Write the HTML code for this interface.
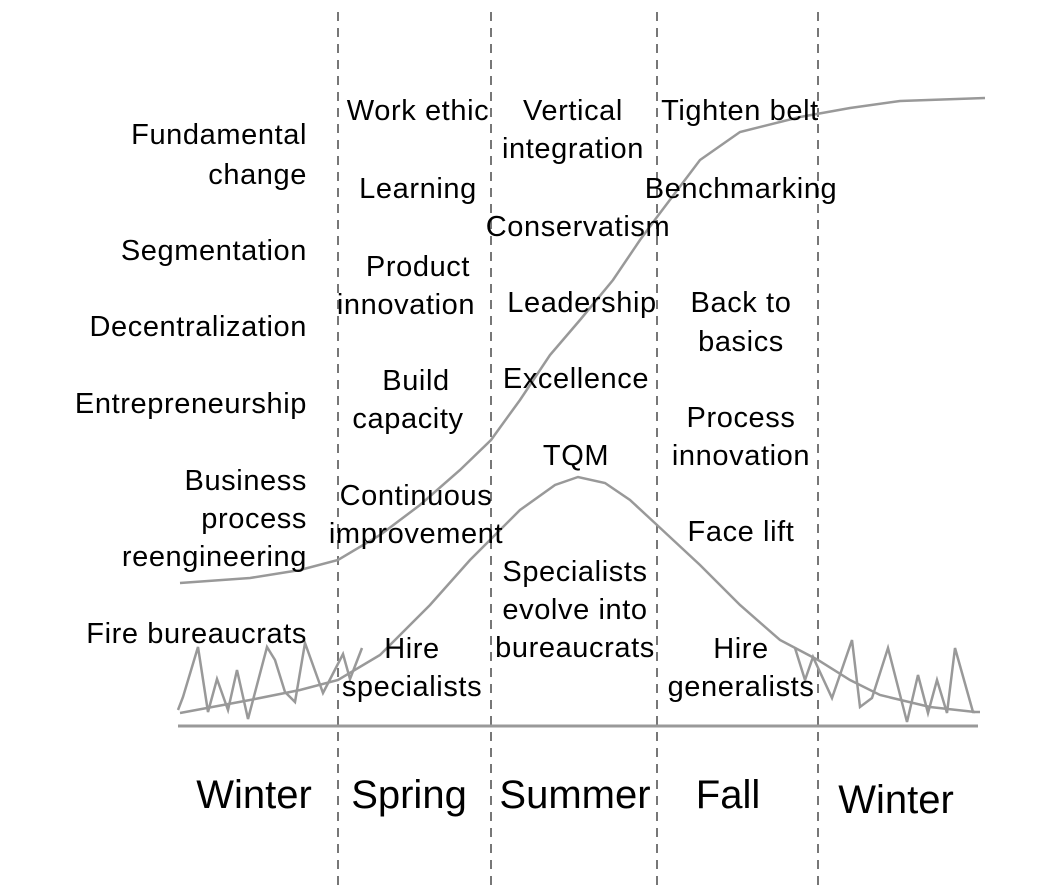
<!DOCTYPE html>
<html><head><meta charset="utf-8"><style>
body{margin:0;background:#fff}
svg text{font-family:"Liberation Sans",Arial,sans-serif;fill:#000}
</style></head><body>
<svg width="1040" height="886" viewBox="0 0 1040 886" xmlns="http://www.w3.org/2000/svg">
<g stroke="#777" stroke-width="2" stroke-dasharray="9,7">
<line x1="338" y1="12" x2="338" y2="886"/><line x1="491" y1="12" x2="491" y2="886"/>
<line x1="657" y1="12" x2="657" y2="886"/><line x1="818" y1="12" x2="818" y2="886"/>
</g>
<line x1="178" y1="726" x2="978" y2="726" stroke="#999" stroke-width="3"/>
<g fill="none" stroke="#999" stroke-width="2.5">
<polyline points="180,583 250,578 300,570 338,560 380,535 420,505 460,470 491,440 520,400 550,355 580,320 613,280 640,240 657,217 700,160 740,132 800,117 850,108 900,101 985,98"/>
<polyline points="180,713 250,700 300,690 338,680 380,655 430,605 470,560 520,510 555,485 578,477 605,483 630,500 657,525 700,565 740,605 780,640 818,660 850,680 880,695 930,707 975,712"/>
<polyline points="178,710 183,697 198,647 208,712 217,679 228,710 237,670 248,719 267,647 275,660 285,692 295,702 305,643 323,693 343,654 350,679 362,648"/>
<polyline points="795,648 805,680 813,657 832,698 852,640 860,707 872,698 888,648 907,722 918,675 928,713 937,680 947,713 955,648 973,712 980,712"/>
</g>
<g font-size="29" letter-spacing="0.6" text-anchor="end">
<text x="307" y="144">Fundamental</text><text x="307" y="184">change</text>
<text x="307" y="260">Segmentation</text>
<text x="307" y="336">Decentralization</text>
<text x="307" y="413">Entrepreneurship</text>
<text x="307" y="490">Business</text><text x="307" y="528">process</text><text x="307" y="566">reengineering</text>
<text x="307" y="643">Fire  bureaucrats</text>
</g>
<g font-size="29" letter-spacing="0.6" text-anchor="middle">
<text x="418" y="120">Work ethic</text>
<text x="418" y="198">Learning</text>
<text x="418" y="276">Product</text><text x="406" y="314">innovation</text>
<text x="416" y="390">Build</text><text x="408" y="428">capacity</text>
<text x="416" y="505">Continuous</text><text x="416" y="543">improvement</text>
<text x="412" y="658">Hire</text><text x="412" y="696">specialists</text>
<text x="573" y="120">Vertical</text><text x="573" y="158">integration</text>
<text x="578" y="236">Conservatism</text>
<text x="582" y="312">Leadership</text>
<text x="576" y="388">Excellence</text>
<text x="576" y="465">TQM</text>
<text x="575" y="581">Specialists</text><text x="575" y="619">evolve into</text><text x="575" y="657">bureaucrats</text>
<text x="740" y="120">Tighten belt</text>
<text x="741" y="198">Benchmarking</text>
<text x="741" y="312">Back to</text><text x="741" y="351">basics</text>
<text x="741" y="427">Process</text><text x="741" y="465">innovation</text>
<text x="741" y="541">Face lift</text>
<text x="741" y="658">Hire</text><text x="741" y="696">generalists</text>
</g>
<g font-size="40" text-anchor="middle">
<text x="254" y="808">Winter</text>
<text x="409" y="808">Spring</text>
<text x="575" y="808">Summer</text>
<text x="728" y="808">Fall</text>
<text x="896" y="813">Winter</text>
</g>
</svg>
</body></html>
